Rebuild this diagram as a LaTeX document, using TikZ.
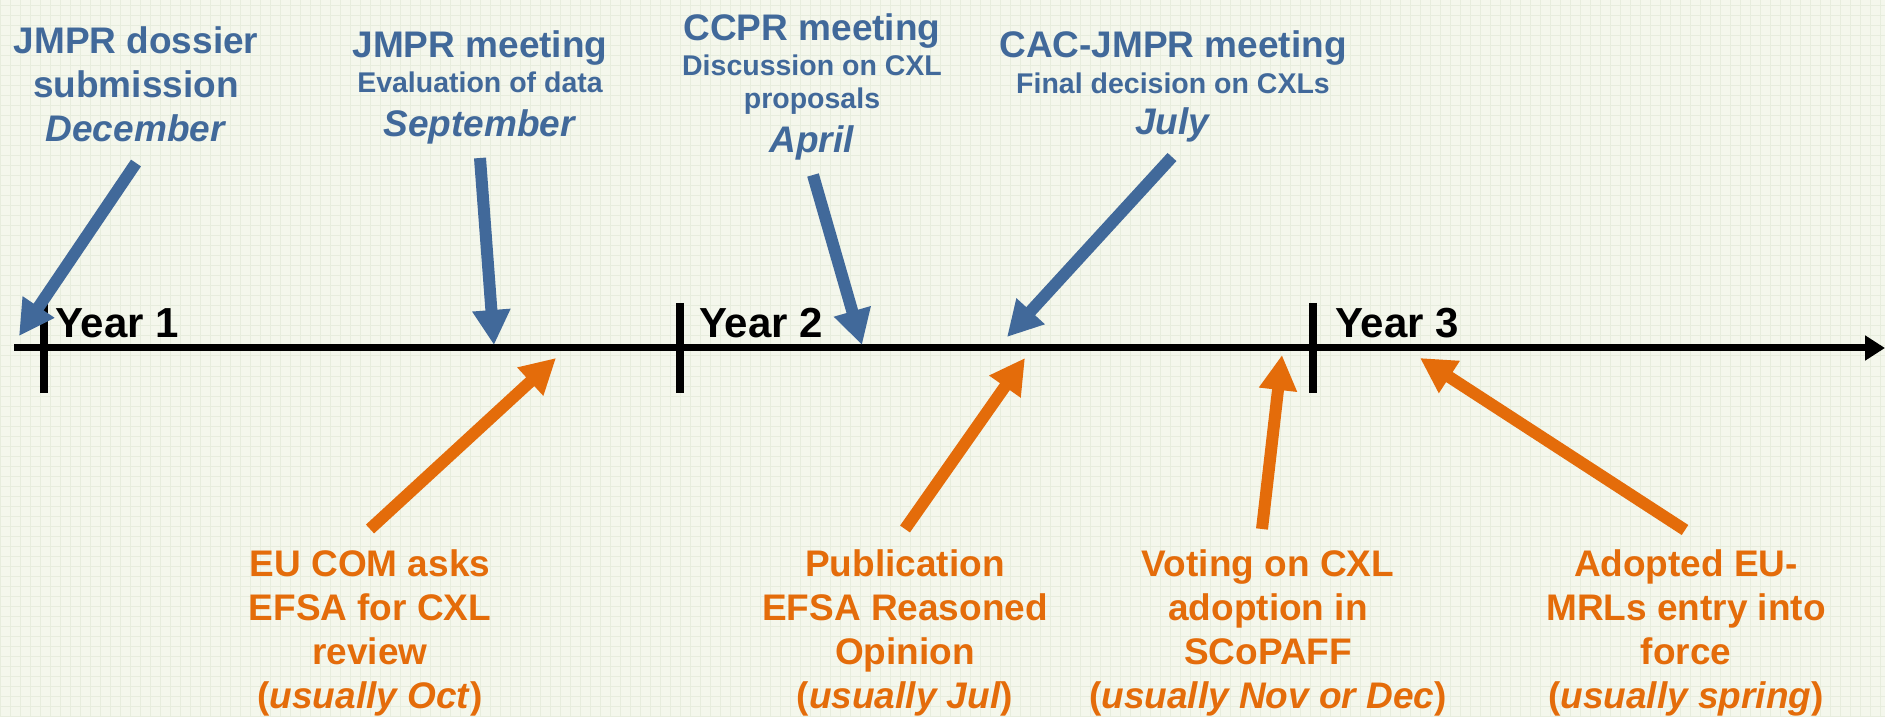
\documentclass[tikz,border=0pt]{standalone}
\usepackage{fontspec}
\setmainfont{Liberation Sans}
\usetikzlibrary{arrows.meta}
\definecolor{jmprblue}{HTML}{41699A}
\definecolor{euorange}{HTML}{E46C0A}
\definecolor{paper}{HTML}{F4F7EC}
\definecolor{paperline}{HTML}{E7EDDD}
\newcommand{\smalltxt}[1]{{\fontsize{28.5}{33}\selectfont #1}}
\begin{document}
\begin{tikzpicture}[x=1pt,y=1pt,
    bluearrow/.style={line width=12pt,jmprblue,-{Triangle[length=35pt,width=36pt]}},
    orangearrow/.style={line width=12pt,euorange,-{Triangle[length=35pt,width=36pt]}},
    bluetext/.style={jmprblue,align=center,anchor=base,inner sep=0pt,font=\fontsize{37}{44}\selectfont\bfseries},
    orangetext/.style={euorange,align=center,anchor=base,inner sep=0pt,font=\fontsize{37}{44}\selectfont\bfseries},
    yearlabel/.style={anchor=base west,inner sep=0pt,font=\fontsize{42}{48}\selectfont\bfseries}]
    % paper
    \useasboundingbox (0,0) rectangle (1885,716);
    \fill[paper] (0,0) rectangle (1885,716);
    \draw[paperline,line width=1pt] (0,0) grid[step=10pt] (1885,716);

    % time line
    \coordinate (start) at (14,368);
    \coordinate (end) at (1885,368);
    \draw[line width=7pt,-{Triangle[length=20pt,width=24pt]}] (start)--(end);
    \foreach \x/\lx/\n in {44/55/1,680/699/2,1313/1335/3} {
        \draw[line width=8pt] (\x,413)--(\x,323);
        \node[yearlabel] (year\n) at (\lx,378) {Year \n};
    }

    % JMPR / Codex side (base = last line)
    \node[bluetext] (dossier) at (136,574) {JMPR dossier\\submission\\\textit{December}};
    \node[bluetext] (jmpr) at (480,579) {JMPR meeting\\[-9pt]\smalltxt{Evaluation of data}\\\textit{September}};
    \node[bluetext] (ccpr) at (812,563) {CCPR meeting\\[-9pt]\smalltxt{Discussion on CXL}\\[-11pt]\smalltxt{proposals}\\\textit{April}};
    \node[bluetext] (cac) at (1173,581) {CAC-JMPR meeting\\[-8pt]\smalltxt{Final decision on CXLs}\\[-3pt]\textit{July}};

    \coordinate (dossier-tail) at (136,553);
    \coordinate (dossier-tip) at (19,380);
    \coordinate (jmpr-tail) at (480,558);
    \coordinate (jmpr-tip) at (494,371);
    \coordinate (ccpr-tail) at (813,541);
    \coordinate (ccpr-tip) at (862,371);
    \coordinate (cac-tail) at (1172,559);
    \coordinate (cac-tip) at (1007,379);
    \draw[bluearrow] (dossier-tail)--(dossier-tip);
    \draw[bluearrow] (jmpr-tail)--(jmpr-tip);
    \draw[bluearrow] (ccpr-tail)--(ccpr-tip);
    \draw[bluearrow] (cac-tail)--(cac-tip);

    % EU side
    \node[orangetext] (asks) at (370,8) {EU COM asks\\EFSA for CXL\\review\\(\textit{usually Oct})};
    \node[orangetext] (opinion) at (905,8) {Publication\\EFSA Reasoned\\Opinion\\(\textit{usually Jul})};
    \node[orangetext] (voting) at (1268,8) {Voting on CXL\\adoption in\\SCoPAFF\\(\textit{usually Nov or Dec})};
    \node[orangetext] (force) at (1686,8) {Adopted EU-\\MRLs entry into\\force\\(\textit{usually spring})};

    \coordinate (asks-tail) at (370,187);
    \coordinate (asks-tip) at (556,358);
    \coordinate (opinion-tail) at (905,187);
    \coordinate (opinion-tip) at (1025,358);
    \coordinate (voting-tail) at (1262,187);
    \coordinate (voting-tip) at (1282,361);
    \coordinate (force-tail) at (1685,186);
    \coordinate (force-tip) at (1420,358);
    \draw[orangearrow] (asks-tail)--(asks-tip);
    \draw[orangearrow] (opinion-tail)--(opinion-tip);
    \draw[orangearrow] (voting-tail)--(voting-tip);
    \draw[orangearrow] (force-tail)--(force-tip);
\end{tikzpicture}
\end{document}
